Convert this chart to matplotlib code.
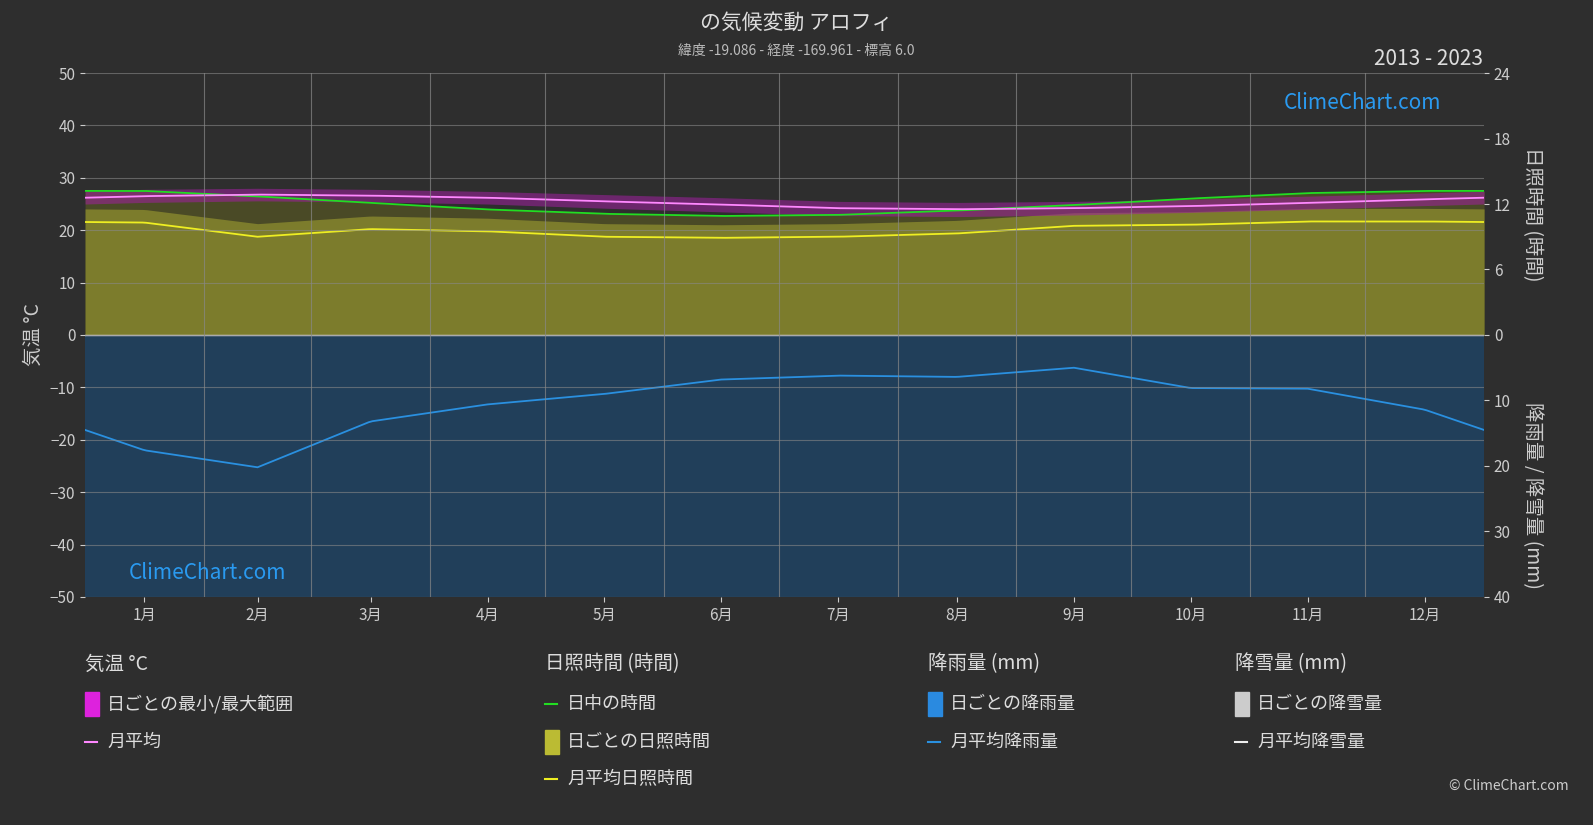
import numpy as np
import matplotlib
matplotlib.use("Agg")
import matplotlib.pyplot as plt

plt.rcParams['font.family'] = ['Noto Sans CJK JP', 'DejaVu Sans']

months = ['1月','2月','3月','4月','5月','6月','7月','8月','9月','10月','11月','12月']
temp_mean = [26.5, 26.8, 26.6, 26.2, 25.5, 24.9, 24.2, 24.0, 24.2, 24.6, 25.2, 25.9]
temp_min = [25.3, 25.6, 25.4, 25.0, 24.2, 23.5, 22.8, 22.6, 22.9, 23.4, 24.0, 24.7]
temp_max = [27.8, 28.0, 27.8, 27.4, 26.8, 26.2, 25.5, 25.3, 25.5, 25.9, 26.5, 27.1]
daylight_h = [13.2, 12.7, 12.1, 11.5, 11.1, 10.9, 11.0, 11.4, 11.9, 12.5, 13.0, 13.2]
sunshine_h = [10.3, 9.0, 9.7, 9.5, 9.0, 8.9, 9.0, 9.3, 10.0, 10.1, 10.4, 10.4]
rain_mm = [17.6, 20.2, 13.2, 10.6, 9.0, 6.8, 6.2, 6.4, 5.0, 8.1, 8.2, 11.4]

BG = '#2e2e2e'
fig = plt.figure(figsize=(15.93, 8.25), dpi=100, facecolor=BG)
ax = fig.add_axes([0.0534, 0.2764, 0.8782, 0.6351], facecolor=BG)

mlen = np.array([31,28,31,30,31,30,31,31,30,31,30,31])
edges = np.concatenate([[0], np.cumsum(mlen)])
mid = (edges[:-1] + edges[1:]) / 2
days = np.arange(0, 366)

def smooth(vals):
    xs = np.concatenate([[mid[-1]-365], mid, [mid[0]+365]])
    ys = np.concatenate([[vals[-1]], vals, [vals[0]]])
    return np.interp(days, xs, ys)

h2t = 50/24
mm2t = 50/40
dl = smooth(daylight_h)*h2t
ss = smooth(sunshine_h)*h2t
rn = smooth(rain_mm)*mm2t

ax.fill_between(days, 0, dl, color='#4a4a26', lw=0)
ax.fill_between(days, 0, ss+2.5, color='#7c7c2c', lw=0)
ax.fill_between(days, 0, -50, color='#213f5a', lw=0)
ax.fill_between(days, smooth(temp_min), smooth(temp_max), color='#a020a0', alpha=0.55, lw=0)

ax.plot(days, dl, color='#22dd22', lw=1.3)
ax.plot(days, ss, color='#eeee22', lw=1.3)
ax.plot(days, smooth(temp_mean), color='#ff88ff', lw=1.3)
ax.plot(days, -rn, color='#2a90e0', lw=1.3)
ax.axhline(0, color='#dddddd', lw=1)

ax.set_xlim(0, 365)
ax.set_ylim(-50, 50)
ax.set_yticks(range(-50, 51, 10))
ax.set_xticks(mid)
ax.set_xticklabels(months)
for e in edges[1:-1]:
    ax.axvline(e, color='#888888', lw=0.8, alpha=0.7)
for y in range(-50, 51, 10):
    ax.axhline(y, color='#888888', lw=0.8, alpha=0.6)
ax.tick_params(colors='#cccccc', labelsize=11)
for s in ax.spines.values():
    s.set_visible(False)
ax.set_ylabel('気温 °C', color='#cccccc', fontsize=14)

ax2 = ax.twinx()
ax2.set_ylim(-50, 50)
tpos = [h*h2t for h in [0,6,12,18,24]] + [-mm*mm2t for mm in [10,20,30,40]]
ax2.set_yticks(tpos)
ax2.set_yticklabels(['0','6','12','18','24','10','20','30','40'])
ax2.tick_params(colors='#cccccc', labelsize=11)
for s in ax2.spines.values():
    s.set_visible(False)
fig.text(0.962, 0.74, '日照時間 (時間)', rotation=270, color='#cccccc', fontsize=14, ha='center', va='center')
fig.text(0.962, 0.40, '降雨量 / 降雪量 (mm)', rotation=270, color='#cccccc', fontsize=14, ha='center', va='center')

fig.text(0.5, 0.972, 'の気候変動 アロフィ', color='#dddddd', fontsize=15, ha='center', va='center')
fig.text(0.5, 0.938, '緯度 -19.086 - 経度 -169.961 - 標高 6.0', color='#bbbbbb', fontsize=10, ha='center', va='center')
fig.text(0.931, 0.928, '2013 - 2023', color='#dddddd', fontsize=15, ha='right', va='center')
fig.text(0.855, 0.875, 'ClimeChart.com', color='#2a9af0', fontsize=15, ha='center', va='center')
fig.text(0.13, 0.305, 'ClimeChart.com', color='#2a9af0', fontsize=15, ha='center', va='center')
fig.text(0.985, 0.047, '© ClimeChart.com', color='#cccccc', fontsize=10, ha='right', va='center')

W, H = 1593, 825
def T(x, y, s, size=13):
    fig.text(x/W, 1-y/H, s, color='#dddddd', fontsize=size, va='center')
def P(x, y, c, kind):
    if kind == 'line':
        fig.add_artist(plt.Line2D([x/W, (x+12)/W], [1-y/H, 1-y/H], color=c, lw=1.5))
    else:
        fig.add_artist(plt.Rectangle((x/W, 1-(y+12)/H), 14/W, 24/H, color=c))

T(85, 664, '気温 °C', 14); T(545, 664, '日照時間 (時間)', 14); T(928, 664, '降雨量 (mm)', 14); T(1235, 664, '降雪量 (mm)', 14)
P(85, 704, '#dd22dd', 'box'); T(107, 704, '日ごとの最小/最大範囲')
P(85, 742, '#ff88ff', 'line'); T(107, 742, '月平均')
P(545, 704, '#22dd22', 'line'); T(567, 704, '日中の時間')
P(545, 742, '#bbbb33', 'box'); T(567, 742, '日ごとの日照時間')
P(545, 779, '#eeee22', 'line'); T(567, 779, '月平均日照時間')
P(928, 704, '#2a8ae0', 'box'); T(950, 704, '日ごとの降雨量')
P(928, 742, '#2a90e0', 'line'); T(950, 742, '月平均降雨量')
P(1235, 704, '#cccccc', 'box'); T(1257, 704, '日ごとの降雪量')
P(1235, 742, '#eeeeee', 'line'); T(1257, 742, '月平均降雪量')

fig.savefig('out.png', dpi=100, facecolor=BG)
